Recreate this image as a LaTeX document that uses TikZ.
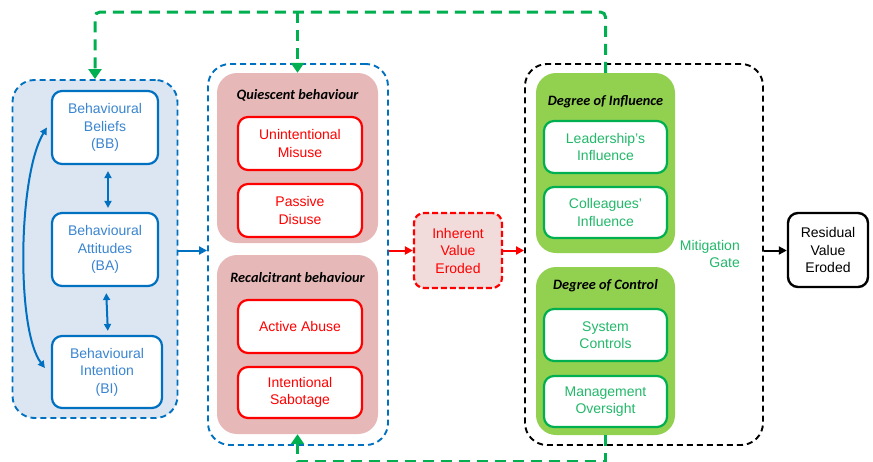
\documentclass[tikz,border=0pt]{standalone}
\usepackage{fontspec}
\setmainfont{Liberation Sans}
\newfontfamily\headfont{Carlito}
\usetikzlibrary{arrows.meta}
\definecolor{bblue}{HTML}{0070C0}
\definecolor{tblue}{HTML}{3A85D0}
\definecolor{lbfill}{HTML}{DCE6F2}
\definecolor{pinkfill}{HTML}{E6B9B8}
\definecolor{ierfill}{HTML}{F2DCDB}
\definecolor{gfill}{HTML}{92D050}
\definecolor{gline}{HTML}{00B050}
\definecolor{gtext}{HTML}{22B86A}
\begin{document}
\begin{tikzpicture}[x=1pt,y=-1pt,
  txt/.style={font=\fontsize{14}{17.5}\selectfont, align=center},
  grp/.style={draw, dashed, dash pattern=on 6pt off 4pt, line width=1.9pt, rounded corners=22pt, inner sep=0pt},
  panel/.style={rounded corners=20pt, inner sep=0pt},
  head/.style={font=\headfont\bfseries\itshape\fontsize{14.3}{16}\selectfont},
  bluebox/.style={txt, draw=bblue, text=tblue, fill=white, line width=2.2pt, rounded corners=10pt, inner sep=0pt},
  redbox/.style={txt, draw=red, text=red, fill=white, line width=2.2pt, rounded corners=10pt, inner sep=0pt, minimum width=124pt},
  greenbox/.style={txt, draw=gline, text=gtext, fill=white, line width=2.2pt, rounded corners=10pt, inner sep=0pt, minimum width=123pt},
  tip/.style={Triangle[length=8pt,width=8pt]},
  barrow/.style={draw=bblue, line width=2pt, -{Triangle[length=8pt,width=8pt]}},
  bdarrow/.style={draw=bblue, line width=2pt, {Triangle[length=7pt,width=7pt]}-{Triangle[length=7pt,width=7pt]}},
  rarrow/.style={draw=red, line width=2pt, -{Triangle[length=8pt,width=8pt]}},
  karrow/.style={draw=black, line width=2pt, -{Triangle[length=8pt,width=8pt]}},
  fb/.style={draw=gline, line width=3pt, dash pattern=on 11pt off 7pt},
  fbarrow/.style={fb, -{Triangle[length=10pt,width=13pt]}}
]
\useasboundingbox (0,0) rectangle (873,461);

% left group
\node[grp, draw=bblue, fill=lbfill, minimum width=165pt, minimum height=338pt] (lg) at (95,249) {};
\node[bluebox, minimum width=106pt, minimum height=73pt] (bb) at (105,127.5) {Behavioural\\Beliefs\\(BB)};
\node[bluebox, minimum width=106pt, minimum height=73pt] (ba) at (105,249.5) {Behavioural\\Attitudes\\(BA)};
\node[bluebox, minimum width=110pt, minimum height=72pt] (bi) at (107,372) {Behavioural\\Intention\\(BI)};
\draw[bdarrow, shorten <=6pt, shorten >=4pt] ([xshift=3pt]bb.south) -- ([xshift=3pt]ba.north);
\draw[bdarrow, shorten <=6pt, shorten >=4pt] ([xshift=1pt]ba.south) -- ([xshift=1pt]bi.north);
\draw[bdarrow] ([xshift=-6pt,yshift=4pt]bi.west) .. controls (16,330) and (18,175) .. ([xshift=-4pt]bb.west);

% middle group
\node[grp, draw=bblue, minimum width=180pt, minimum height=381pt] (mg) at (298,254.5) {};
\node[panel, fill=pinkfill, minimum width=161pt, minimum height=170pt] (qb) at (297.5,158) {};
\node[panel, fill=pinkfill, minimum width=161pt, minimum height=179pt] (rb) at (297.5,344.5) {};
\node[head] (qh) at (297.5,95) {Quiescent behaviour};
\node[head] (rh) at (297.5,278) {Recalcitrant behaviour};
\node[redbox, minimum height=53pt] (um) at (300,143.5) {Unintentional\\Misuse};
\node[redbox, minimum height=53pt] (pd) at (300,210.5) {Passive\\Disuse};
\node[redbox, minimum height=53pt] (aa) at (300,326.5) {Active Abuse};
\node[redbox, minimum height=51pt] (is) at (300,392.5) {Intentional\\Sabotage};

% inherent value eroded
\node[txt, draw=red, fill=ierfill, text=red, dashed, dash pattern=on 6pt off 3pt, line width=2.2pt, rounded corners=10pt, inner sep=0pt, minimum width=88pt, minimum height=75pt] (ie) at (458,250.5) {Inherent\\Value\\Eroded};

% mitigation group
\node[grp, draw=black, minimum width=238pt, minimum height=381pt] (mitg) at (644,254.5) {};
\node[panel, fill=gfill, minimum width=139pt, minimum height=180pt] (doi) at (605.5,163) {};
\node[panel, fill=gfill, minimum width=139pt, minimum height=168pt] (doc) at (605.5,351) {};
\node[head] (ih) at (605.5,102) {Degree of Influence};
\node[head] (ch) at (605.5,286) {Degree of Control};
\node[greenbox, minimum height=52pt] (li) at (605.5,147) {Leadership's\\Influence};
\node[greenbox, minimum height=51pt] (ci) at (605.5,212.5) {Colleagues'\\Influence};
\node[greenbox, minimum height=52pt] (sc) at (605.5,335) {System\\Controls};
\node[greenbox, minimum height=51pt] (mo) at (605.5,401.5) {Management\\Oversight};
\node[txt, text=gtext, align=right, anchor=east, inner sep=0pt] (mgate) at (740,254) {Mitigation\\Gate};

% residual
\node[txt, draw=black, line width=2.4pt, rounded corners=10pt, inner sep=0pt, minimum width=80pt, minimum height=74pt] (res) at (828,250) {Residual\\Value\\Eroded};

% main flow arrows
\draw[barrow] (lg.east |- ie.west) -- (mg.west |- ie.west);
\draw[rarrow] (mg.east |- ie.west) -- (ie.west);
\draw[rarrow] (ie.east) -- (mitg.west |- ie.east);
\draw[karrow] (mitg.east |- ie.east) -- (res.west |- ie.east);

% feedback loops
\coordinate (t1) at (605.5,12);
\coordinate (t2) at (95,12);
\coordinate (t3) at (297.5,12);
\draw[fbarrow, rounded corners=5pt] (doi.north) -- (t1) -- (t2) -- (lg.north);
\draw[fbarrow] (t3) -- (qb.north);
\coordinate (b1) at (605.5,461.5);
\coordinate (b2) at (297.5,461.5);
\draw[fbarrow] (doc.south) -- (b1) -- (b2) -- (rb.south);
\end{tikzpicture}
\end{document}
